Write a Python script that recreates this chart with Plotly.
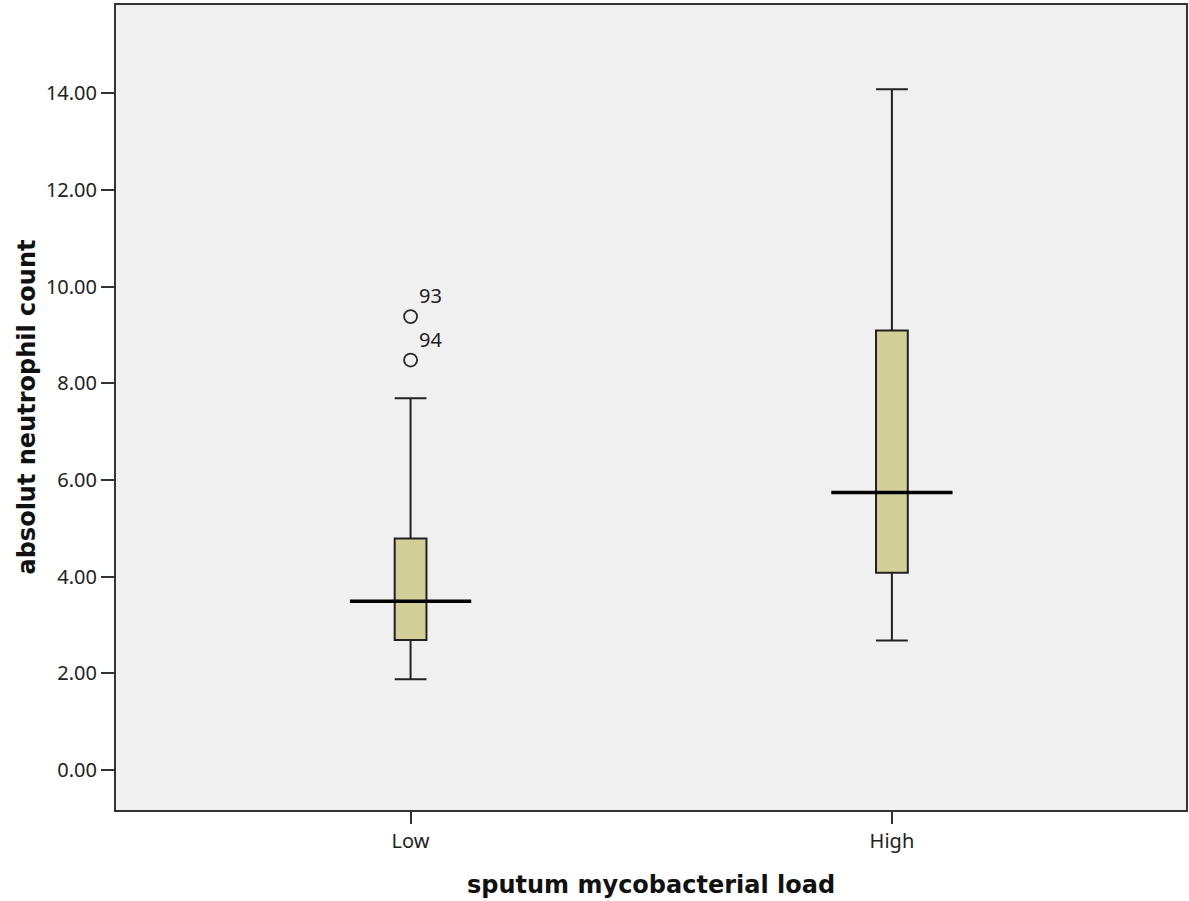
import plotly.graph_objects as go

categories = ["Low", "High"]
lower_whisker = [1.88, 2.68]
q1_values = [2.69, 4.08]
median_values = [3.49, 5.74]
q3_values = [4.79, 9.09]
upper_whisker = [7.69, 14.08]
outlier_values = [9.38, 8.48]
outlier_labels = ["93", "94"]
outlier_category = 0
y_tick_values = [0, 2, 4, 6, 8, 10, 12, 14]

positions = list(range(len(categories)))

TICK_FONT = dict(family="Noto Sans", size=20, color="#222222")
TITLE_FONT = dict(family="DejaVu Sans", size=24, color="#111111")
AXIS_COLOR = "#333333"

fig = go.Figure()

fig.add_trace(go.Box(
    x=positions,
    q1=q1_values,
    median=median_values,
    q3=q3_values,
    lowerfence=lower_whisker,
    upperfence=upper_whisker,
    width=0.066,
    whiskerwidth=1,
    fillcolor="rgb(211,207,152)",
    line=dict(color="#222222", width=2),
    boxpoints=False,
    showlegend=False,
    hoverinfo="skip",
))

fig.add_trace(go.Scatter(
    x=[positions[outlier_category]] * len(outlier_values),
    y=outlier_values,
    mode="markers",
    marker=dict(symbol="circle-open", size=13, color="#2a2a2a", line=dict(width=1.8)),
    showlegend=False,
    hoverinfo="skip",
))

for p, m in zip(positions, median_values):
    fig.add_shape(type="line", xref="x", yref="y", x0=p - 0.126, x1=p + 0.126,
                  y0=m, y1=m, line=dict(color="#000000", width=3.5), layer="above")

for v, lab in zip(outlier_values, outlier_labels):
    fig.add_annotation(x=positions[outlier_category], y=v, xref="x", yref="y",
                       text=lab, showarrow=False, xanchor="center", yanchor="middle",
                       xshift=20, yshift=21, font=TICK_FONT)

fig.add_annotation(xref="paper", yref="paper", x=0, y=0.5, xshift=-90,
                   text="<b>absolut neutrophil count</b>", textangle=-90,
                   showarrow=False, xanchor="center", yanchor="middle", font=TITLE_FONT)
fig.add_annotation(xref="paper", yref="paper", x=0.5, y=0, yshift=-75,
                   text="<b>sputum mycobacterial load</b>",
                   showarrow=False, xanchor="center", yanchor="middle", font=TITLE_FONT)

fig.update_layout(
    width=1189, height=901,
    margin=dict(l=116, r=3, t=5, b=91, autoexpand=False),
    paper_bgcolor="white",
    plot_bgcolor="#f0f0f0",
    showlegend=False,
    xaxis=dict(
        range=[-0.612, 1.611],
        tickvals=positions, ticktext=categories,
        ticks="outside", ticklen=12, tickwidth=2, tickcolor=AXIS_COLOR,
        showline=True, linecolor=AXIS_COLOR, linewidth=2, mirror=True,
        showgrid=False, zeroline=False, tickfont=TICK_FONT,
    ),
    yaxis=dict(
        range=[-0.827, 15.825],
        tickvals=y_tick_values, tickformat=".2f",
        ticks="outside", ticklen=13, tickwidth=2, tickcolor=AXIS_COLOR,
        showline=True, linecolor=AXIS_COLOR, linewidth=2, mirror=True,
        showgrid=False, zeroline=False, tickfont=TICK_FONT,
    ),
)

fig.write_html(
    "out.html",
    config={"displayModeBar": False},
    post_script="document.body.style.margin='0';document.body.style.overflow='hidden';",
)
